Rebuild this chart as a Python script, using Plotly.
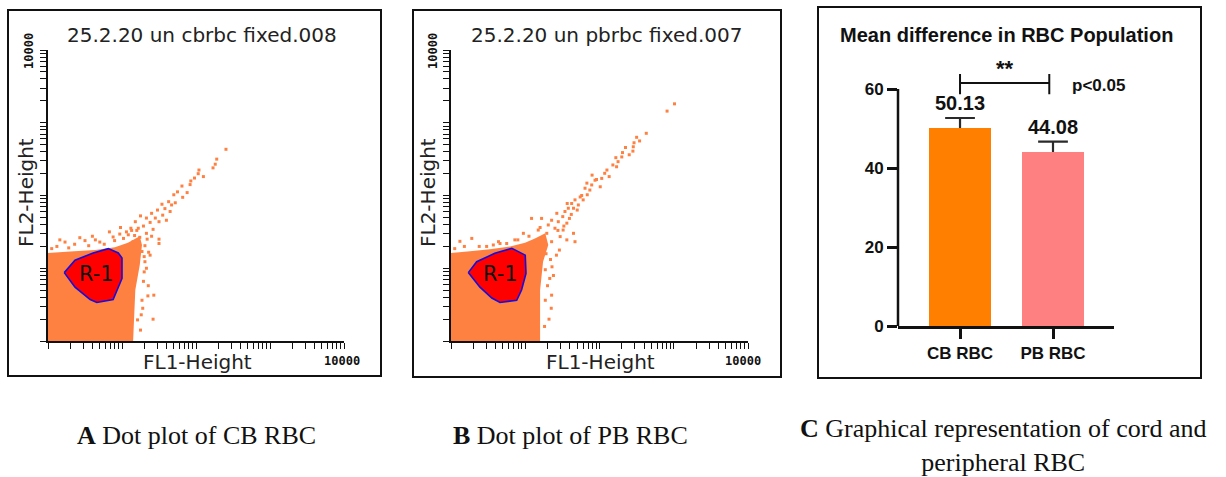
import numpy as np
import plotly.graph_objects as go

W, H = 1226, 477

# ---------------- data ----------------
# Flow cytometry dot plots: coordinates are log10 decades of FL1-Height / FL2-Height
# Dense event region (outline) for cord blood RBC
cb_cloud_fl1 = [0.00, 0.00, 0.30, 0.635, 0.905, 1.08, 1.24, 1.27, 1.24, 1.18, 1.15]
cb_cloud_fl2 = [0.00, 1.21, 1.23, 1.25, 1.29, 1.35, 1.44, 1.32, 1.045, 0.70, 0.00]
# Gate R-1 for cord blood RBC
cb_gate_fl1 = [0.22, 0.365, 0.61, 0.815, 0.95, 1.00, 1.00, 0.88, 0.66, 0.57, 0.365, 0.22]
cb_gate_fl2 = [0.94, 1.11, 1.21, 1.27, 1.21, 1.14, 0.86, 0.57, 0.53, 0.57, 0.74, 0.94]
# Scattered events outside the dense region (cord blood)
cb_events_fl1 = [2.405, 2.28, 2.26, 2.23, 2.04, 2.03, 1.93, 1.92, 1.88, 1.81, 1.75, 1.70,
                 1.82, 1.63, 1.54, 1.67, 1.58, 1.48, 1.65, 1.40, 1.55, 1.45, 1.33, 1.25,
                 1.50, 1.38, 1.18, 1.29, 1.42, 1.22, 1.13, 1.33, 1.085, 1.24, 1.40, 1.50,
                 1.50, 0.97, 0.83, 1.15, 1.31, 1.38, 1.27, 1.43, 1.42, 1.355, 1.31, 1.27,
                 1.21, 0.64, 0.43, 0.23, 0.16, 1.30, 1.28, 1.25, 0.50, 1.12, 0.98, 1.34,
                 0.05, 0.12, 0.28, 0.36, 0.55, 0.70, 0.76, 0.90, 1.02, 1.06, 1.17, 1.20,
                 1.36, 1.33, 1.29, 1.26, 1.35, 1.30, 1.60, 1.72, 1.98, 2.10, 0.60, 0.88]
cb_events_fl2 = [2.635, 2.50, 2.43, 2.38, 2.35, 2.30, 2.20, 2.15, 2.04, 2.13, 2.05, 2.01,
                 1.975, 1.915, 1.88, 1.87, 1.82, 1.80, 1.78, 1.755, 1.73, 1.69, 1.69, 1.72,
                 1.64, 1.63, 1.64, 1.58, 1.535, 1.55, 1.52, 1.48, 1.46, 1.425, 1.44, 1.40,
                 1.34, 1.47, 1.50, 1.365, 1.31, 1.18, 1.23, 0.63, 0.30, 0.76, 1.09, 0.56,
                 0.29, 1.39, 1.42, 1.36, 1.39, 0.95, 0.45, 0.15, 1.38, 1.55, 1.56, 1.40,
                 1.27, 1.30, 1.28, 1.33, 1.31, 1.36, 1.33, 1.38, 1.41, 1.50, 1.45, 1.52,
                 1.22, 1.00, 0.82, 0.36, 0.62, 1.16, 1.66, 1.90, 2.24, 2.26, 1.44, 1.43]

# Dense event region (outline) for peripheral blood RBC
pb_cloud_fl1 = [0.00, 0.00, 0.256, 0.525, 0.795, 0.997, 1.13, 1.27, 1.31, 1.24, 1.20, 1.20]
pb_cloud_fl2 = [0.00, 1.21, 1.235, 1.26, 1.30, 1.35, 1.41, 1.48, 1.32, 1.09, 0.70, 0.00]
# Gate R-1 for peripheral blood RBC
pb_gate_fl1 = [0.233, 0.346, 0.59, 0.82, 1.00, 1.01, 0.95, 0.885, 0.66, 0.55, 0.39, 0.233]
pb_gate_fl2 = [0.94, 1.09, 1.205, 1.275, 1.18, 0.93, 0.70, 0.56, 0.53, 0.59, 0.74, 0.94]
# Scattered events outside the dense region (peripheral blood)
pb_events_fl1 = [3.01, 2.91, 2.63, 2.54, 2.465, 2.455, 2.45, 2.40, 2.31, 2.30, 2.22, 2.25,
                 2.23, 2.10, 2.07, 2.13, 2.03, 1.94, 2.01, 1.895, 1.83, 1.87, 1.805, 1.835,
                 1.74, 1.78, 1.67, 1.715, 1.625, 1.565, 1.58, 1.535, 1.65, 1.505, 1.425, 1.595,
                 1.445, 1.56, 1.355, 1.31, 1.22, 1.085, 1.40, 1.51, 1.65, 1.67, 1.56, 1.47,
                 1.29, 1.24, 1.355, 1.42, 1.175, 0.975, 0.86, 0.75, 0.64, 0.57, 0.48, 1.355,
                 1.30, 0.28, 1.27, 1.27, 1.33, 1.26, 0.12, 1.36,
                 0.05, 0.18, 0.38, 0.66, 0.90, 1.05, 1.20, 1.34, 1.38, 1.35, 1.32, 1.46,
                 1.52, 1.62, 1.70, 1.76, 1.90, 1.96, 2.18, 2.35, 2.50, 1.44, 1.28]
pb_events_fl2 = [3.26, 3.16, 2.855, 2.75, 2.725, 2.67, 2.61, 2.56, 2.59, 2.53, 2.52, 2.465,
                 2.395, 2.35, 2.305, 2.26, 2.235, 2.21, 2.12, 2.145, 2.17, 2.075, 2.10, 2.01,
                 1.98, 1.94, 1.94, 1.87, 1.89, 1.89, 1.825, 1.78, 1.825, 1.71, 1.755, 1.685,
                 1.64, 1.62, 1.66, 1.595, 1.685, 1.685, 1.55, 1.525, 1.48, 1.365, 1.39, 1.435,
                 1.48, 1.41, 1.365, 1.18, 1.525, 1.48, 1.39, 1.34, 1.365, 1.32, 1.30, 0.63,
                 0.76, 1.41, 0.98, 0.56, 0.86, 0.20, 1.37, 1.02,
                 1.27, 1.30, 1.30, 1.34, 1.39, 1.44, 1.56, 1.12, 0.90, 0.45, 0.30, 1.25,
                 1.58, 1.74, 1.80, 2.00, 2.28, 2.22, 2.42, 2.66, 2.80, 1.52, 1.20]

# Bar chart: mean RBC population
categories = ["CB RBC", "PB RBC"]
means = [50.13, 44.08]
errors = [2.53, 2.58]
y_ticks = [0, 20, 40, 60]

# ---------------- styling helpers ----------------
def px(x):
    return x / W


def py(y):
    return 1 - y / H


cloud_color = "#FF8142"
gate_fill = "#FF0000"
gate_line = "#1010E0"
fcs_font = "DejaVu Sans"
bar_font = "Liberation Sans"
cap_font = "Liberation Serif"

# log tick positions 1..9 per decade, unlabeled
log_ticks = [k * 10 ** d for d in range(4) for k in range(1, 10)] + [10000]

fig = go.Figure()


def add_dotplot(xa, ya, cloud_x, cloud_y, gate_x, gate_y, ev_x, ev_y):
    fig.add_trace(go.Scatter(
        x=np.power(10.0, cloud_x), y=np.power(10.0, cloud_y), mode="lines",
        fill="toself", fillcolor=cloud_color, line=dict(width=0, color=cloud_color),
        xaxis=xa, yaxis=ya, hoverinfo="skip", showlegend=False))
    fig.add_trace(go.Scatter(
        x=np.power(10.0, ev_x), y=np.power(10.0, ev_y), mode="markers",
        marker=dict(symbol="square", size=3, color=cloud_color, line=dict(width=0)),
        xaxis=xa, yaxis=ya, hoverinfo="skip", showlegend=False))
    fig.add_trace(go.Scatter(
        x=np.power(10.0, gate_x), y=np.power(10.0, gate_y), mode="lines",
        fill="toself", fillcolor=gate_fill, line=dict(width=1.6, color=gate_line),
        xaxis=xa, yaxis=ya, hoverinfo="skip", showlegend=False))


add_dotplot("x", "y", cb_cloud_fl1, cb_cloud_fl2, cb_gate_fl1, cb_gate_fl2,
            cb_events_fl1, cb_events_fl2)
add_dotplot("x2", "y2", pb_cloud_fl1, pb_cloud_fl2, pb_gate_fl1, pb_gate_fl2,
            pb_events_fl1, pb_events_fl2)

# Bars
xs = list(range(len(categories)))
fig.add_trace(go.Bar(
    x=xs, y=means, width=0.667, marker=dict(color=["#FF8000", "#FF8080"], line=dict(width=0)),
    xaxis="x3", yaxis="y3", hoverinfo="skip", showlegend=False))

# Upper error bars (stem + cap)
cap = 0.16
ex, ey = [], []
for i, (m, e) in enumerate(zip(means, errors)):
    ex += [i, i, None, i - cap, i + cap, None]
    ey += [m, m + e, None, m + e, m + e, None]
fig.add_trace(go.Scatter(
    x=ex, y=ey, mode="lines", line=dict(color="#2a2a2a", width=2.2),
    xaxis="x3", yaxis="y3", hoverinfo="skip", showlegend=False))

# ---------------- axes ----------------
log_axis = dict(type="log", range=[0, 4], tickvals=log_ticks, ticktext=[""] * len(log_ticks),
                ticks="outside", ticklen=6, tickwidth=1.2, tickcolor="#111",
                showline=True, linecolor="#111", linewidth=2,
                showgrid=False, zeroline=False, fixedrange=True, automargin=False)

yA = [py(341), py(50)]
fig.update_layout(
    width=W, height=H, margin=dict(l=0, r=0, t=0, b=0, pad=0, autoexpand=False),
    autosize=False,
    paper_bgcolor="white", plot_bgcolor="white", showlegend=False,
    xaxis=dict(domain=[px(48), px(344)], anchor="y", **log_axis),
    yaxis=dict(domain=yA, anchor="x", **log_axis),
    xaxis2=dict(domain=[px(451), px(748)], anchor="y2", **log_axis),
    yaxis2=dict(domain=yA, anchor="x2", **log_axis),
    xaxis3=dict(domain=[px(898), px(1114)], anchor="y3", range=[-0.667, 1.656],
                tickvals=xs, ticktext=categories, ticks="outside", ticklen=10,
                tickwidth=2.5, tickcolor="#111", showline=True, linewidth=2.5,
                linecolor="#111", showgrid=False, zeroline=False, automargin=False,
                tickfont=dict(family=bar_font, size=17, color="#111", weight="bold")),
    yaxis3=dict(domain=[py(326), py(65.3)], anchor="x3", range=[0, 66],
                tickvals=y_ticks, ticks="outside", ticklen=10, tickwidth=2.5,
                tickcolor="#111", showline=False, showgrid=False, zeroline=False,
                automargin=False,
                tickfont=dict(family=bar_font, size=17, color="#111", weight="bold")),
    bargap=0,
)

shapes = []
# panel frames
for x0, y0, x1, y1 in [(8, 10, 381, 376), (413, 10, 781, 377), (818, 7, 1201, 378)]:
    shapes.append(dict(type="rect", xref="paper", yref="paper",
                       x0=px(x0), x1=px(x1), y0=py(y1), y1=py(y0),
                       line=dict(color="#111", width=2), fillcolor="rgba(0,0,0,0)"))
# bar chart y-axis line (0 to 60)
shapes.append(dict(type="line", xref="x3 domain", yref="y3", x0=0, x1=0, y0=0, y1=60,
                   line=dict(color="#111", width=2.5)))
# significance bracket
shapes.append(dict(type="line", xref="x3", yref="y3", x0=0, x1=0.96, y0=61.5, y1=61.5,
                   line=dict(color="#111", width=2)))
for bx in (0, 0.96):
    shapes.append(dict(type="line", xref="x3", yref="y3", x0=bx, x1=bx, y0=58.7, y1=63.8,
                       line=dict(color="#111", width=2)))
fig.update_layout(shapes=shapes)

ann = []


def text(x, y, s, size, family=fcs_font, angle=0, color="#222", weight="normal",
         xanchor="center", yanchor="middle", xref="paper", yref="paper"):
    ann.append(dict(x=x, y=y, xref=xref, yref=yref, text=s, showarrow=False,
                    textangle=angle, xanchor=xanchor, yanchor=yanchor,
                    font=dict(family=family, size=size, color=color, weight=weight)))


# dot plot texts
for title, cx, fl1x, fl2x, ylabx, xlabx, xa, ya, gx, gy in [
        ("25.2.20 un cbrbc fixed.008", 202, 197, 26, 29, 342, "x", "y", 0.66, 0.92),
        ("25.2.20 un pbrbc fixed.007", 606, 600, 428, 433, 743, "x2", "y2", 0.67, 0.92)]:
    text(px(cx), py(35), title, 20)
    text(px(fl1x), py(362), "FL1-Height", 20)
    text(px(fl2x), py(193), "FL2-Height", 20, angle=-90)
    text(px(ylabx), py(51), "10000", 12, family="DejaVu Sans Mono", angle=-90,
         color="#111", weight="bold")
    text(px(xlabx), py(361), "10000", 12, family="DejaVu Sans Mono", color="#111",
         weight="bold")
    text(gx, gy, "R-1", 21, xref=xa, yref=ya, color="#111")

# bar chart texts
text(px(1007), py(35), "Mean difference in RBC Population", 20, family=bar_font,
     color="#111", weight="bold")
for i, (m, e) in enumerate(zip(means, errors)):
    ann.append(dict(x=i, y=m + e, xref="x3", yref="y3", text=f"{m:.2f}", showarrow=False,
                    yanchor="bottom", yshift=2,
                    font=dict(family=bar_font, size=20, color="#111", weight="bold")))
text(0.48, 65.2, "**", 22, family=bar_font, color="#111", weight="bold",
     xref="x3", yref="y3")
text(1.18, 61.0, "p<0.05", 17, family=bar_font, color="#111", weight="bold",
     xanchor="left", xref="x3", yref="y3")

# captions
text(px(196), py(435), "<b>A</b> Dot plot of CB RBC", 26, family=cap_font, color="#111")
text(px(570), py(435), "<b>B</b> Dot plot of PB RBC", 26, family=cap_font, color="#111")
text(px(1003), py(445), "<b>C</b> Graphical representation of cord and<br>peripheral RBC", 26,
     family=cap_font, color="#111")

fig.update_layout(annotations=ann)
fig.write_html("out.html")
